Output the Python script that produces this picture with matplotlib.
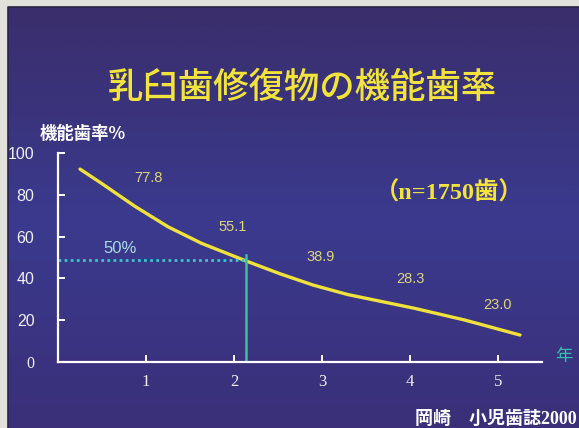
import numpy as np
import matplotlib.pyplot as plt

# curve (years, % still functioning)
curve_x = [0.25, 0.49, 0.87, 1.25, 1.63, 2.14, 2.53, 2.90, 3.29, 4.05, 4.62, 5.25]
curve_y = [92.3, 85.6, 74.6, 64.7, 56.8, 48.3, 42.1, 36.8, 32.3, 25.7, 20.1, 12.9]

# value labels printed above the curve
label_x = [1.03, 1.99, 2.99, 4.00, 5.00]
label_y = [88.0, 64.6, 50.4, 39.7, 27.2]
label_txt = ['77.8', '55.1', '38.9', '28.3', '23.0']

half_year = 2.14
half_level = 49

xticks = [1, 2, 3, 4, 5]
yticks = [0, 20, 40, 60, 80, 100]

CJK = ['Noto Sans CJK JP', 'DejaVu Sans']
MIX = ['Liberation Serif', 'Noto Sans CJK JP']

fig = plt.figure(figsize=(5.79, 4.28), dpi=100)
fig.patch.set_facecolor('#e3e1db')

# slide background with a soft vertical gradient
bg = fig.add_axes([0, 0, 1, 1])
bg.set_xlim(0, 579)
bg.set_ylim(428, 0)
bg.axis('off')
top = np.array([0x3a, 0x2e, 0x6c]) / 255
mid = np.array([0x3a, 0x3a, 0x8e]) / 255
bot = np.array([0x3b, 0x2f, 0x78]) / 255
t = np.linspace(0, 1, 200)[:, None]
grad = np.where(t < 0.5, top + (mid - top) * (t / 0.5), mid + (bot - mid) * ((t - 0.5) / 0.5))
img = np.repeat(grad[:, None, :], 2, axis=1)
bg.imshow(img, extent=[8, 585, 435, 7], aspect='auto', interpolation='bilinear')
bg.plot([8, 8, 585], [435, 7, 7], color='#2a2540', lw=1.2)

# title and side texts
fig.text(0.523, 1 - 88 / 428, '乳臼歯修復物の機能歯率', color='#f2e43a', fontsize=25.5,
         fontweight='medium', family=CJK, ha='center', va='center')
fig.text(40 / 579, 1 - 134 / 428, '機能歯率%', color='white', fontsize=12.5,
         fontweight='bold', family=CJK, ha='left', va='center')
fig.text(415 / 579, 1 - 419 / 428, '岡崎　小児歯誌2000', color='white', fontsize=13,
         fontweight='bold', family=MIX, ha='left', va='center')

ax = fig.add_axes([58 / 579, 1 - 362 / 428, 484 / 579, 209 / 428])
ax.patch.set_alpha(0)
ax.set_xlim(0, 5.5)
ax.set_ylim(0, 100)
for s in ['top', 'right']:
    ax.spines[s].set_visible(False)
for s in ['left', 'bottom']:
    ax.spines[s].set_color('white')
    ax.spines[s].set_linewidth(1.6)

ax.set_xticks(xticks)
ax.set_yticks(yticks)
ax.tick_params(axis='both', direction='in', colors='white', length=5, width=1.4)
ax.tick_params(axis='y', pad=17, labelsize=11.5, labelcolor='#f0f0f0')
ax.tick_params(axis='x', pad=9, labelsize=12, labelcolor='#f0f0f0')
for lab in ax.get_xticklabels():
    lab.set_family('Liberation Serif')
for lab in ax.get_yticklabels():
    lab.set_family('Liberation Sans')
ax.get_yticklabels()[0].set_family('Liberation Serif')

ax.plot(curve_x, curve_y, color='#f0e23c', lw=2.4, solid_capstyle='round', clip_on=False)
ax.plot([0, half_year], [half_level, half_level], color='#3cc4cc', lw=2, ls=(0, (1, 1.2)))
ax.plot([half_year, half_year], [0, half_level + 2], color='#3cbfa0', lw=1.8)

for x, y, s in zip(label_x, label_y, label_txt):
    ax.text(x, y, s, color='#ded67a', fontsize=10.5, family='Liberation Sans',
            ha='center', va='center')

ax.text(0.70, 54.4, '50%', color='#a8dde6', fontsize=12, family='Liberation Sans',
        ha='center', va='center')
ax.text(4.44, 81, '（n=1750歯）', color='#f2e43a', fontsize=17.5, fontweight='bold',
        family=MIX, ha='center', va='center')
ax.text(5.75, 3, '年', color='#35c2b2', fontsize=12.5, family=CJK,
        ha='center', va='center', clip_on=False)

fig.savefig('out.png', dpi=100, facecolor=fig.get_facecolor())
